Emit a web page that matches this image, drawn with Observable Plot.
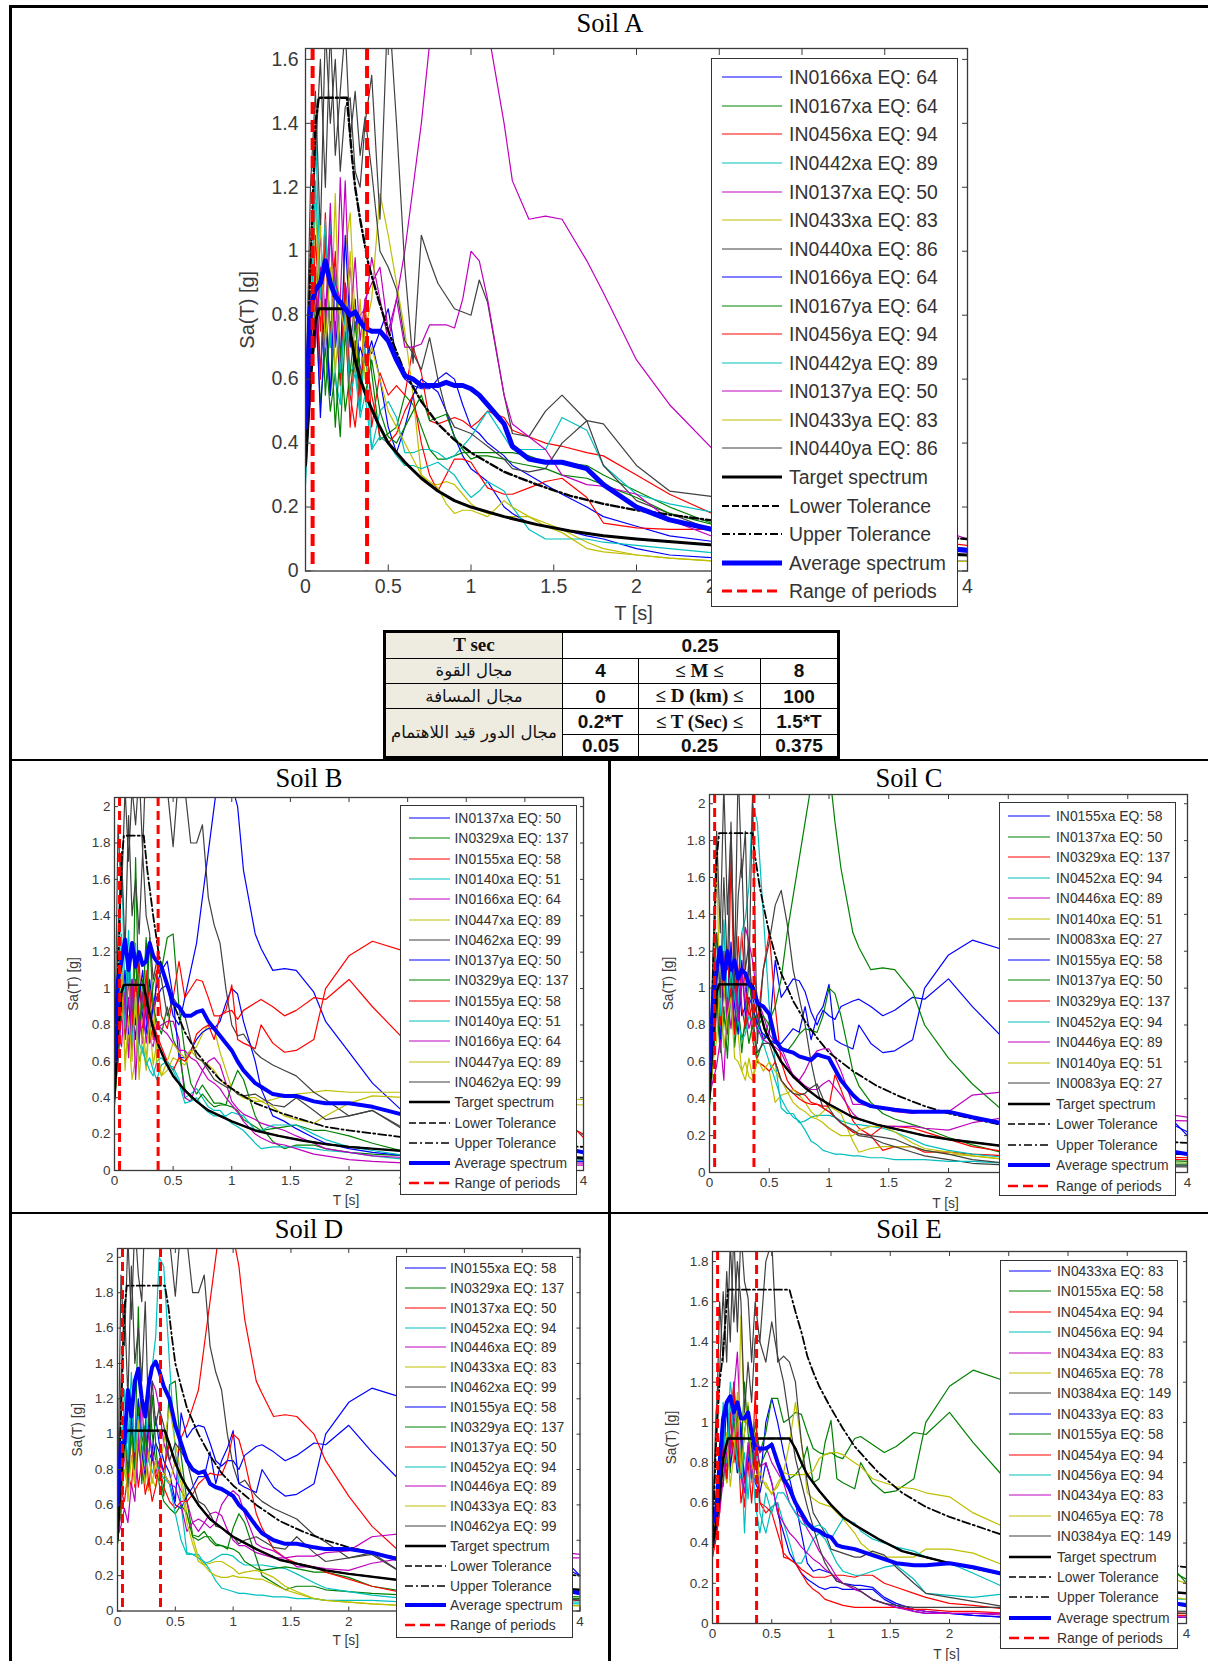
<!DOCTYPE html>
<html><head><meta charset="utf-8">
<script src="https://cdn.jsdelivr.net/npm/d3@7"></script>
<script src="https://cdn.jsdelivr.net/npm/@observablehq/plot@0.6"></script>
<style>
html,body{margin:0;padding:0;background:#fff}
#page{position:relative;width:1208px;height:1661px;overflow:hidden;background:#fff;font-family:"Liberation Sans",Arial,sans-serif}
.rule{position:absolute;background:#000}
.title{position:absolute;font-family:"Liberation Serif",serif;font-size:26.5px;color:#000;transform:translate(-50%,-50%);white-space:nowrap}
.legend{position:absolute;background:#fff;border:1.5px solid #333;box-sizing:border-box;color:#333}
.legend .row{position:absolute;left:0;right:0;white-space:pre}
.legend svg{position:absolute;left:0;top:0}
.legend span{position:absolute;transform:translateY(-50%);top:0}
.chart{position:absolute}
.chart svg{overflow:visible;background:transparent}
table{position:absolute;left:383px;top:630px;width:454px;height:129px;border-collapse:collapse;table-layout:fixed;border:3px solid #000;background:#fff}
td{border:1px solid #000;text-align:center;padding:0;font:bold 19px "Liberation Sans",Arial,sans-serif;color:#111;line-height:1}
td.h{background:#eeece1;font:16.5px "DejaVu Sans",sans-serif}
td.s{font:bold 19px "Liberation Serif",serif}
</style></head><body><div id="page"></div>
<script>
// Period grid shared by the records (s)
const T=[0,.03,.06,.09,.12,.15,.18,.21,.24,.27, .3,.33,.36,.4,.45,.5,.55,.6,.65,.7, .75,.8,.85,.9,.95,1,1.05,1.1,1.2,1.25, 1.35,1.45,1.55,1.7,1.8,2,2.2,2.5,4];
const xTicks=[0,.5,1,1.5,2,2.5,3,3.5,4];
const xLabelled=[0,.5,1,1.5,2,2.5,4];
const rangeT=[.043,.372];
const recordColors=["#0000ff","#008000","#ff0000","#00bfbf","#bf00bf","#bfbf00","#404040"];
const extraLabels=["Target spectrum","Lower Tolerance","Upper Tolerance","Average spectrum","Range of periods"];

// Soil A
const soilA_labels=["IN0166xa EQ: 64","IN0167xa EQ: 64","IN0456xa EQ: 94","IN0442xa EQ: 89","IN0137xa EQ: 50","IN0433xa EQ: 83","IN0440xa EQ: 86","IN0166ya EQ: 64","IN0167ya EQ: 64","IN0456ya EQ: 94","IN0442ya EQ: 89","IN0137ya EQ: 50","IN0433ya EQ: 83","IN0440ya EQ: 86"];
const soilA_records=[
[.45,.7,.95,.62,.85,.55,.78,.6,.9,.7, .85,.62,.72,.68,.75,.82,.66,.6,.58,.57, .57,.6,.62,.6,.52,.45,.43,.4,.36,.33, .3,.27,.24,.2,.17,.14,.11,.09,.05],
[.38,.62,.85,.52,.7,.5,.62,.42,.75,.55, .72,.5,.8,.62,.41,.43,.45,.55,.52,.45, .38,.35,.35,.36,.37,.37,.37,.37,.37,.37, .36,.34,.34,.33,.3,.25,.2,.14,.06],
[.32,.55,1.05,.75,1.12,.7,1.0,.58,.82,.45, .72,.55,.85,.45,.62,.55,.58,.55,.7,.62, .47,.46,.47,.48,.47,.45,.47,.5,.48,.44, .42,.4,.39,.37,.36,.3,.24,.17,.08],
[.27,.6,1.38,.9,.75,1.1,.6,.52,.88,.62, .65,.5,.7,.38,.5,.53,.48,.37,.37,.38, .38,.37,.35,.36,.39,.42,.46,.5,.42,.38, .38,.38,.48,.44,.33,.24,.21,.18,.07],
[.5,.72,.85,1.05,.78,1.15,.7,1.23,.85,.95, .75,.8,.82,.98,.85,.72,.85,1.0,1.2,1.4, 1.65,1.9,2.1,2.2,2.1,2,1.85,1.7,1.4,1.22, 1.1,1.11,1.1,.97,.87,.66,.52,.36,.1],
[.42,.68,1.15,.8,1.02,.7,1.18,.65,1.0,1.12, .78,.6,.75,.85,1.18,1.05,.9,.75,.55,.3, .27,.27,.28,.27,.24,.21,.19,.18,.17,.17, .17,.15,.13,.09,.07,.05,.04,.03,.03],
[.5,1.2,1.5,1.05,1.7,1.4,1.6,1.25,1.45,1.48, 1.25,1.2,1.4,1.55,1.1,1.8,1.4,.95,.65,1.05, .97,.9,.86,.82,.81,.8,.91,.84,.55,.43, .42,.5,.55,.47,.33,.22,.18,.12,.05],
[.42,.62,.9,.48,.78,.55,.95,.65,1.05,.75, .62,.7,.65,.72,.6,.45,.37,.45,.55,.6, .58,.56,.5,.42,.36,.32,.3,.28,.2,.18, .15,.14,.13,.11,.1,.07,.05,.04,.03],
[.35,.58,.75,.92,.55,.78,.45,.7,.5,.62, .78,.6,.55,.66,.5,.42,.4,.45,.5,.55, .47,.48,.49,.42,.38,.35,.36,.36,.35,.34, .33,.32,.3,.29,.27,.23,.18,.14,.06],
[.33,.65,.95,.6,1.05,.72,.98,.6,.9,.55, .45,.6,.68,.55,.42,.4,.43,.5,.55,.4, .3,.25,.3,.35,.35,.34,.3,.26,.24,.24, .26,.28,.29,.23,.15,.135,.13,.13,.07],
[.3,.7,1.22,.85,1.1,.7,.95,.62,.8,.55, .62,.48,.55,.38,.42,.4,.36,.33,.33,.32, .33,.34,.32,.3,.26,.23,.25,.28,.25,.2, .13,.1,.1,.1,.09,.08,.07,.055,.05],
[.45,.8,.7,.95,.75,1.05,.9,.85,1.22,.78, .98,.72,.85,.9,.95,.75,.85,.7,.7,.71, .77,.77,.77,.76,.85,1.0,.97,.85,.55,.46, .42,.38,.3,.27,.265,.24,.16,.1,.06],
[.38,.7,.85,1.08,.7,.95,.62,.82,.75,1.0, .62,.85,.6,.7,.6,.5,.45,.4,.35,.3, .28,.26,.21,.18,.19,.19,.18,.17,.22,.2, .17,.14,.12,.07,.06,.05,.04,.03,.03],
[.5,1.0,1.3,1.6,1.2,1.7,1.3,1.5,1.7,1.35, 1.5,1.3,1.42,1.25,1.0,.95,.88,.72,.68,.63, .73,.6,.5,.45,.44,.43,.41,.39,.35,.32, .31,.32,.4,.47,.46,.33,.25,.23,.06]];
const soilA_average=[.45,.82,.88,.9,.97,.9,.86,.84,.82,.8, .81,.78,.76,.75,.75,.72,.66,.61,.6,.58, .58,.58,.59,.58,.58,.57,.55,.52,.46,.39, .35,.34,.34,.32,.27,.2,.16,.125,.065];
const soilA_targetT=[0,.03,.06,.08,.25,.28,.3,.33,.38,.44,.5,.6,.7,.8,.9,1,1.2,1.4,1.6,1.8,2,2.5,3,4];
const soilA_target=[.33,.6,.78,.82,.82,.72,.66,.6,.53,.46,.4,.34,.29,.25,.22,.2,.17,.145,.125,.11,.1,.08,.07,.05];
const soilA_upper=[.45,.95,1.4,1.48,1.48,1.3,1.2,1.1,.96,.85,.75,.62,.53,.46,.41,.37,.31,.27,.235,.21,.19,.155,.13,.1];
const soilA_yTicks=[0,.2,.4,.6,.8,1,1.2,1.4,1.6];

// Soil B
const soilB_labels=["IN0137xa EQ: 50","IN0329xa EQ: 137","IN0155xa EQ: 58","IN0140xa EQ: 51","IN0166xa EQ: 64","IN0447xa EQ: 89","IN0462xa EQ: 99","IN0137ya EQ: 50","IN0329ya EQ: 137","IN0155ya EQ: 58","IN0140ya EQ: 51","IN0166ya EQ: 64","IN0447ya EQ: 89","IN0462ya EQ: 99"];
const soilB_records=[
[.45,.7,1.0,.82,1.1,.9,.72,1.02,.85,.75, 1.05,.88,.95,1.0,1.02,.85,.8,.95,1.1,1.25, 1.5,1.75,2.0,2.25,2.2,2.12,2.0,1.65,1.3,1.22, 1.1,1.11,1.1,.98,.82,.65,.48,.3,.1],
[.38,.65,1.05,.72,.95,.65,1.72,.82,.9,1.28, .85,1.02,1.1,1.1,1.28,1.3,.9,.65,.48,.42, .47,.42,.37,.37,.36,.47,.55,.5,.3,.24, .16,.12,.14,.14,.12,.1,.09,.08,.06],
[.4,.75,1.1,.85,1.05,.7,.95,1.15,.75,.9, 1.0,.72,1.1,.85,.78,.95,1.15,.95,1.0,1.05, 1.04,.95,.85,.85,.87,.88,.83,.88,.92,.94, .9,.85,.88,.95,.94,1.05,.9,.7,.2],
[.37,.8,1.75,.9,1.32,.85,1.25,.7,.65,.6, .55,.52,.6,.62,.58,.57,.5,.4,.42,.45, .4,.35,.33,.33,.29,.26,.24,.22,.15,.12, .13,.13,.13,.12,.11,.1,.08,.06,.05],
[.45,.6,.85,.72,.95,.65,1.05,.78,.98,.7, .85,.9,.78,.8,.82,.82,.72,.4,.38,.48, .55,.6,.62,.58,.48,.38,.34,.31,.28,.26, .24,.22,.19,.15,.12,.1,.08,.07,.04],
[.42,.7,1.1,.62,.75,.5,.62,.9,.72,.55, .85,.95,.6,.52,.55,.62,.6,.58,.65,.68, .75,.8,.78,.65,.55,.45,.42,.4,.38,.38, .39,.41,.42,.43,.44,.43,.43,.43,.39],
[.55,1.9,1.5,2.1,1.7,2.1,1.9,2.2,1.75,2.3, 2.4,2.3,2.1,2.4,2.1,1.78,2.2,2.1,1.8,1.8, 1.9,1.5,1.35,1.25,1.0,.8,.74,.75,.65,.62, .58,.55,.52,.43,.39,.3,.33,.22,.06],
[.42,.7,.9,1.1,.75,1.05,.8,.95,1.1,.85, .75,.9,1.02,1.1,1.15,.95,.62,.62,.66,.72, .76,.78,.78,.82,.92,1.0,.97,.82,.6,.45, .3,.27,.23,.18,.15,.12,.1,.08,.05],
[.36,.62,.95,.75,1.1,.82,1.2,.7,1.05,.85, 1.28,.9,.82,.75,.9,.72,.65,.45,.4,.38, .42,.38,.35,.36,.36,.35,.33,.28,.24,.22, .23,.24,.25,.22,.22,.19,.15,.1,.07],
[.4,.68,1.0,.75,1.15,.8,1.05,.85,.72,1.1, .7,.8,.75,.68,.6,.55,.62,.6,.65,.75, .78,.8,.72,.85,.88,1.02,.72,.7,.67,.8, .7,.65,.66,.72,1.0,1.18,1.26,1.2,.18],
[.38,.72,1.3,.78,1.1,.7,.95,.6,.68,.58, .62,.55,.5,.58,.6,.55,.48,.37,.38,.4, .35,.32,.3,.3,.3,.32,.31,.3,.22,.22, .25,.25,.25,.2,.17,.13,.11,.08,.06],
[.42,.75,.68,.98,.62,1.05,.5,.85,.7,.9, .72,.68,.8,.78,.75,.7,.66,.66,.62,.6, .55,.5,.48,.45,.4,.36,.32,.27,.2,.18, .15,.14,.12,.09,.08,.06,.05,.04,.03],
[.4,.65,1.12,.55,.85,.6,.98,.5,.78,.62, .82,.58,.7,.52,.6,.7,.65,.62,.66,.62, .6,.58,.55,.5,.47,.45,.43,.4,.4,.38, .35,.3,.28,.26,.3,.37,.41,.4,.36],
[.5,1.3,1.75,1.2,1.95,1.4,1.6,1.3,1.75,1.4, 1.3,1.05,1.15,1.05,.85,.95,.9,.85,.72,.62, .6,.55,.5,.48,.46,.45,.42,.41,.42,.4, .36,.35,.4,.33,.28,.3,.33,.21,.06]];
const soilB_average=[.6,1.05,1.15,1.27,1.1,1.25,1.12,1.2,1.13,1.15, 1.25,1.18,1.15,1.12,1.02,.92,.9,.85,.85,.87, .88,.82,.78,.74,.7,.66,.6,.55,.48,.46, .42,.41,.41,.38,.37,.37,.35,.3,.1];
const soilB_targetT=[0,.03,.06,.08,.25,.28,.3,.33,.38,.44,.5,.6,.7,.8,.9,1,1.2,1.4,1.6,1.8,2,2.5,3,4];
const soilB_target=[.4,.75,.98,1.02,1.02,.92,.86,.78,.68,.59,.52,.44,.38,.33,.3,.27,.22,.19,.165,.145,.13,.105,.09,.07];
const soilB_upper=[.45,1.1,1.7,1.84,1.84,1.65,1.55,1.4,1.18,1.03,.92,.76,.65,.57,.5,.45,.37,.32,.28,.24,.22,.18,.15,.13];
const wideTicks=[0,.2,.4,.6,.8,1,1.2,1.4,1.6,1.8,2];

// Soil C
const soilC_labels=["IN0155xa EQ: 58","IN0137xa EQ: 50","IN0329xa EQ: 137","IN0452xa EQ: 94","IN0446xa EQ: 89","IN0140xa EQ: 51","IN0083xa EQ: 27","IN0155ya EQ: 58","IN0137ya EQ: 50","IN0329ya EQ: 137","IN0452ya EQ: 94","IN0446ya EQ: 89","IN0140ya EQ: 51","IN0083ya EQ: 27"];
const soilC_records=[
[.42,.7,1.05,.8,1.2,.9,1.1,.78,1.05,.85, .9,1.15,.95,.85,.72,.75,1.15,.95,1.0,1.05, 1.04,.98,.87,.8,.88,.85,.83,.9,.93,.94, .9,.85,.88,.95,.94,1.05,.9,.7,.22],
[.38,.62,.95,.72,.9,.62,1.0,.75,.92,.65, .85,.7,.8,.62,.72,.82,.9,1.05,1.3,1.5, 1.7,1.9,2.1,2.25,2.3,2.2,1.9,1.65,1.3,1.22, 1.1,1.11,1.1,.98,.8,.62,.48,.31,.1],
[.4,.65,.95,.85,1.1,.78,1.7,.9,1.05,1.3, 1.0,.85,.9,.8,1.1,1.3,.9,.6,.5,.45, .43,.42,.38,.37,.36,.36,.53,.45,.28,.24, .2,.12,.14,.14,.11,.11,.1,.09,.07],
[.37,.8,1.3,.95,1.35,.85,1.2,1.05,.9,1.3, 1.38,1.55,2.0,1.9,1.4,.9,.6,.35,.32,.32, .27,.28,.3,.31,.31,.31,.3,.28,.26,.26, .25,.24,.22,.18,.15,.12,.1,.08,.05],
[.42,.6,.9,.7,1.0,.85,.95,1.2,.85,1.0, 1.33,1.25,1.15,.95,.85,.75,.7,.68,.6,.52, .5,.55,.62,.66,.67,.67,.62,.55,.37,.37, .36,.35,.33,.32,.33,.33,.42,.44,.3],
[.38,.7,1.75,.8,1.05,.72,1.2,.95,.75,.55, .6,.52,.5,.6,.58,.55,.38,.42,.43,.45, .42,.38,.33,.3,.33,.36,.34,.32,.17,.11, .13,.14,.14,.14,.12,.1,.09,.07,.04],
[.5,1.2,1.85,1.3,2.1,1.4,1.85,1.1,2.2,1.6, 1.85,1.05,2.05,.7,1.1,1.25,1.45,1.53,1.35,1.1, .95,.8,.6,.45,.35,.33,.3,.27,.22,.2, .19,.16,.14,.11,.09,.07,.05,.04,.03],
[.4,.62,.95,.7,1.15,.85,1.25,.9,.75,1.15, .85,.95,.9,.8,.75,.72,.7,.7,.74,.78, .76,.9,.72,.85,.9,1.02,.72,.7,.67,.8, .7,.65,.66,.72,1.0,1.18,1.26,1.2,.2],
[.36,.6,.92,.65,.85,.75,1.1,.68,.88,.72, .8,1.05,.88,.78,.85,.8,.72,.68,.66,.7, .75,.78,.77,.76,.85,1.0,.97,.85,.55,.47, .38,.32,.29,.26,.24,.19,.15,.1,.06],
[.42,.72,1.1,.8,1.2,.85,1.0,.75,1.28,.9, .78,.95,.72,.6,.58,.55,.6,.5,.46,.43, .4,.38,.37,.37,.35,.33,.3,.27,.22,.21, .2,.25,.25,.24,.22,.18,.14,.11,.08],
[.38,.75,1.1,.85,1.37,.9,1.1,.95,.82,.72, .75,.85,.8,.8,.7,.6,.5,.4,.34,.3, .28,.23,.17,.15,.12,.11,.1,.1,.09,.09, .08,.08,.07,.07,.07,.06,.06,.05,.04],
[.42,.5,.58,.72,.5,.95,.78,1.05,.82,1.1, .9,.78,.85,.78,.72,.7,.68,.65,.58,.53, .5,.47,.45,.45,.48,.5,.46,.42,.32,.29, .27,.25,.25,.25,.24,.23,.27,.3,.28],
[.38,.6,.72,1.05,.68,.85,.95,.62,.6,.55, .5,.62,.52,.62,.55,.6,.55,.5,.44,.38, .35,.33,.3,.29,.27,.24,.22,.2,.2,.23, .25,.25,.22,.16,.13,.11,.09,.07,.05],
[.5,1.0,1.3,.95,1.6,1.1,1.9,1.0,1.5,1.7, 1.1,1.25,.85,.65,.7,.7,.6,.5,.46,.43, .42,.43,.46,.48,.4,.35,.3,.27,.23,.21, .2,.19,.18,.14,.12,.1,.07,.05,.04]];
const soilC_average=[.55,.95,1.1,1.22,1.05,1.2,1.1,1.15,1.05,1.1, 1.08,1.02,1.0,.92,.9,.86,.72,.67,.66,.65, .63,.62,.61,.64,.63,.62,.56,.5,.42,.39, .36,.35,.34,.33,.33,.33,.3,.26,.1];
const soilC_targetT=[0,.03,.06,.08,.36,.38,.42,.46,.5,.55,.6,.7,.8,.9,1,1.2,1.4,1.6,1.8,2,2.5,3,4];
const soilC_target=[.4,.75,.98,1.02,1.02,.98,.88,.78,.72,.66,.6,.52,.46,.41,.37,.3,.26,.23,.2,.18,.14,.12,.1];
const soilC_upper=[.45,1.1,1.7,1.84,1.84,1.72,1.55,1.42,1.3,1.18,1.08,.93,.82,.73,.65,.55,.47,.41,.36,.32,.25,.2,.16];

// Soil D
const soilD_labels=["IN0155xa EQ: 58","IN0329xa EQ: 137","IN0137xa EQ: 50","IN0452xa EQ: 94","IN0446xa EQ: 89","IN0433xa EQ: 83","IN0462xa EQ: 99","IN0155ya EQ: 58","IN0329ya EQ: 137","IN0137ya EQ: 50","IN0452ya EQ: 94","IN0446ya EQ: 89","IN0433ya EQ: 83","IN0462ya EQ: 99"];
const soilD_records=[
[.42,.72,1.08,.8,1.2,.9,1.1,.8,1.05,.85, .9,1.1,.95,.85,.78,.62,1.12,.98,1.03,1.05, 1.04,.95,.85,.82,.85,.85,.8,.88,.93,.94, .9,.85,.88,.95,.94,1.05,.9,.7,.2],
[.4,.65,1.0,.8,1.1,.85,1.72,.95,1.05,1.28, 1.0,.85,.8,.65,1.28,1.3,.88,.62,.43,.42, .45,.4,.37,.37,.35,.47,.55,.5,.3,.2, .16,.12,.14,.14,.12,.11,.1,.09,.07],
[.42,.62,.95,.75,1.0,.7,1.05,.85,1.02,.7, .88,.75,.82,.8,.95,.82,.98,1.05,1.15,1.25, 1.5,1.75,2.0,2.25,2.2,2.12,1.95,1.65,1.3,1.23, 1.1,1.11,1.1,1.0,.85,.65,.48,.3,.1],
[.38,.8,1.25,.95,1.35,.9,1.2,1.05,.9,1.3, 1.38,1.55,2.0,1.95,1.4,.9,.6,.33,.32,.32, .27,.28,.3,.32,.32,.31,.28,.26,.26,.26, .25,.24,.21,.16,.13,.11,.09,.07,.05],
[.42,.55,.9,.7,1.0,.9,.95,1.2,.85,1.02, 1.3,1.25,1.15,.95,.85,.75,.68,.62,.5,.45, .5,.55,.56,.54,.46,.4,.37,.37,.33,.32, .3,.3,.31,.31,.33,.34,.42,.44,.32],
[.38,.62,.8,.68,1.05,.72,.95,.82,.72,.68, .75,.7,.8,.95,1.15,.95,.78,.55,.42,.3, .26,.27,.28,.28,.26,.24,.21,.22,.23,.22, .19,.14,.11,.07,.06,.05,.04,.03,.03],
[.55,1.9,1.5,2.1,1.65,2.2,1.9,1.75,2.3,2.4, 2.4,2.4,2.3,2.3,2.1,1.78,2.2,2.1,1.8,1.8, 1.9,1.5,1.35,1.25,1.0,.82,.72,.74,.65,.62, .58,.55,.52,.43,.39,.3,.32,.2,.06],
[.4,.65,.95,.7,1.1,.85,1.2,.9,.75,1.1, .85,.95,.9,.78,.72,.6,.58,.65,.7,.76, .76,.9,.72,.85,.92,1.02,.72,.7,.67,.8, .7,.65,.66,.72,1.0,1.18,1.26,1.2,.2],
[.38,.6,.95,.72,1.05,.8,1.15,.72,1.0,.85, 1.22,.95,.72,.62,.58,.55,.6,.55,.42,.4, .42,.42,.38,.37,.36,.35,.33,.28,.24,.23, .24,.25,.24,.22,.22,.19,.14,.11,.08],
[.42,.68,.62,.78,.7,.95,.7,.85,.66,.75, .62,.7,.82,.7,.62,.58,.62,.62,.66,.72, .75,.78,.77,.77,.85,1.0,.97,.85,.55,.47, .35,.3,.27,.25,.22,.18,.14,.1,.06],
[.38,.75,1.1,.85,1.2,.9,1.1,.95,.82,.85, .78,.85,.8,.75,.72,.55,.4,.32,.32,.3, .28,.23,.17,.13,.12,.11,.1,.1,.09,.09, .08,.08,.07,.07,.06,.06,.06,.05,.04],
[.42,.48,.58,.5,.72,.62,.95,.78,.82,1.0, .9,.78,.85,.78,.72,.7,.6,.45,.5,.52, .5,.47,.5,.6,.65,.68,.65,.55,.38,.36, .34,.3,.25,.25,.24,.23,.27,.3,.3],
[.38,.65,.95,.62,.88,.72,1.08,.85,.72,.9, .72,.85,.75,.78,.72,.85,.72,.5,.38,.28, .26,.22,.2,.19,.19,.2,.19,.19,.18,.18, .15,.12,.1,.07,.06,.05,.04,.03,.03],
[.5,1.3,1.75,1.2,1.95,1.4,1.6,1.3,1.75,1.05, 1.3,1.05,1.15,1.05,.85,.95,.9,.85,.72,.62, .6,.55,.48,.47,.44,.42,.38,.4,.42,.4, .36,.35,.42,.33,.28,.3,.33,.2,.06]];
const soilD_average=[.6,.95,.95,1.25,1.1,1.3,1.37,1.2,1.1,1.28, 1.38,1.41,1.36,1.27,1.2,1.05,.95,.85,.8,.78, .79,.72,.7,.69,.67,.65,.6,.57,.48,.44, .4,.38,.38,.36,.35,.35,.33,.28,.1];
const soilD_targetT=[0,.03,.06,.08,.41,.44,.47,.5,.55,.6,.7,.8,.9,1,1.2,1.4,1.6,1.8,2,2.5,3,4];
const soilD_target=[.4,.75,.98,1.02,1.02,.96,.9,.84,.76,.7,.6,.52,.47,.42,.35,.29,.26,.23,.21,.17,.15,.12];
const soilD_upper=[.45,1.1,1.7,1.84,1.84,1.72,1.55,1.4,1.27,1.15,1.0,.88,.78,.71,.6,.51,.45,.4,.36,.29,.25,.2];

// Soil E
const soilE_labels=["IN0433xa EQ: 83","IN0155xa EQ: 58","IN0454xa EQ: 94","IN0456xa EQ: 94","IN0434xa EQ: 83","IN0465xa EQ: 78","IN0384xa EQ: 149","IN0433ya EQ: 83","IN0155ya EQ: 58","IN0454ya EQ: 94","IN0456ya EQ: 94","IN0434ya EQ: 83","IN0465ya EQ: 78","IN0384ya EQ: 149"];
const soilE_records=[
[.38,.5,.62,.95,1.1,.85,1.05,.8,.95,.72, .85,.95,.78,.7,1.0,1.12,1.0,.85,.72,.6, .45,.3,.26,.27,.26,.25,.21,.2,.19,.19, .18,.13,.1,.07,.06,.05,.04,.03,.03],
[.42,.55,.72,.68,.92,.75,1.2,.95,.82,1.2, .95,.78,1.0,.85,.95,1.12,1.12,1.0,1.02,1.05, 1.04,.95,.87,.85,.84,.85,.83,.82,.92,.93, .89,.85,.88,.95,.94,1.05,.9,.7,.22],
[.33,.45,.62,.85,.7,1.0,1.2,.8,.75,.58, .85,.72,1.15,.6,.55,.58,.6,.33,.32,.3, .27,.25,.23,.23,.23,.24,.24,.24,.23,.24, .24,.2,.18,.15,.13,.1,.09,.07,.05],
[.35,.5,.78,1.1,.85,1.2,1.05,.75,.9,.45, .85,.7,.95,.55,.45,.58,.6,.5,.4,.3, .3,.36,.42,.45,.42,.36,.3,.26,.24,.24, .26,.28,.29,.22,.15,.14,.13,.15,.12],
[.38,.5,.68,.95,.78,.85,1.15,1.35,.9,.7, .88,.78,.95,.85,.88,.8,.75,.7,.6,.55, .53,.47,.42,.36,.32,.28,.23,.2,.17,.16, .12,.1,.08,.07,.06,.05,.05,.04,.03],
[.45,.55,.62,.85,.7,1.05,.9,.75,1.53,1.0, 1.1,.85,.95,.7,.7,.64,.7,.75,.9,1.1, .9,.65,.62,.6,.59,.58,.55,.52,.45,.4, .35,.33,.33,.33,.37,.37,.35,.28,.12],
[.5,.9,1.6,1.3,1.75,1.4,1.95,1.45,1.95,1.7, 1.62,1.3,1.6,1.4,1.8,1.9,1.3,1.33,1.3,1.2, .9,.7,.55,.5,.45,.37,.36,.35,.33,.33, .36,.34,.28,.2,.15,.13,.11,.08,.06],
[.36,.48,.7,.82,1.08,.78,.9,.75,1.0,.7, .8,.9,.7,.65,.8,.7,.55,.45,.35,.3, .25,.22,.2,.18,.17,.18,.18,.17,.17,.17, .17,.12,.09,.06,.05,.05,.04,.03,.03],
[.4,.5,.68,.85,.72,.92,1.0,.85,.75,.95, 1.08,.8,.92,.78,.85,.9,.8,.7,.72,.74, .78,.88,.7,.72,.9,1.01,.72,.7,.67,.8, .7,.65,.66,.72,1.0,1.18,1.26,1.2,.2],
[.33,.42,.55,.92,.72,1.05,.8,.95,.6,.72, .8,.6,.85,.6,.58,.55,.45,.35,.32,.3, .25,.2,.17,.15,.12,.11,.1,.09,.08,.08, .08,.08,.08,.07,.07,.06,.06,.05,.04],
[.36,.5,.72,.98,.8,1.1,.95,.78,.72,.85, .62,.85,.6,.45,.65,.55,.65,.65,.6,.55, .5,.48,.48,.49,.47,.42,.47,.52,.5,.46, .42,.4,.38,.36,.33,.3,.25,.17,.1],
[.38,.48,.55,.72,.85,.9,1.0,1.05,.75,.65, .9,.72,.92,.78,.8,.7,.55,.5,.45,.42, .38,.35,.32,.3,.27,.25,.22,.2,.17,.16, .12,.1,.08,.06,.05,.05,.05,.05,.03],
[.45,.52,.62,.78,.95,.68,.85,1.15,.75,.95, 1.05,.8,.72,.75,.68,.65,.68,.75,.74,.74, .74,.74,.76,.82,.84,.85,.85,.84,.8,.78, .72,.7,.68,.67,.65,.63,.55,.47,.2],
[.5,1.05,1.25,1.65,1.3,1.9,1.5,1.8,1.6,1.05, 1.3,1.1,1.42,1.4,1.3,1.5,1.33,1.2,1.0,.82, .7,.58,.48,.38,.3,.25,.21,.2,.18,.16, .12,.1,.09,.08,.08,.08,.08,.08,.05]];
const soilE_average=[.5,.55,.8,1.02,1.1,1.13,1.05,1.1,1.02,1.02, 1.05,.95,.87,.87,.87,.89,.8,.72,.67,.6, .55,.5,.47,.46,.44,.43,.39,.38,.37,.36, .34,.32,.3,.29,.29,.3,.28,.24,.09];
const soilE_targetT=[0,.03,.06,.09,.13,.65,.7,.75,.8,.85,.9,1,1.1,1.2,1.4,1.6,1.8,2,2.5,3,4];
const soilE_target=[.38,.5,.62,.82,.92,.92,.87,.8,.74,.7,.66,.59,.53,.49,.42,.36,.33,.3,.24,.2,.15];
const soilE_upper=[.38,.9,1.2,1.35,1.66,1.66,1.55,1.45,1.33,1.25,1.18,1.07,.97,.88,.75,.65,.58,.53,.43,.35,.28];
const soilE_yTicks=[0,.2,.4,.6,.8,1,1.2,1.4,1.6,1.8];

const tableRows=[
 ["T sec","0.25"],["مجال القوة","4","≤ M ≤","8"],["مجال المسافة","0","≤ D (km) ≤","100"],
 ["مجال الدور قيد اللاهتمام","0.2*T","≤ T (Sec) ≤","1.5*T"],["0.05","0.25","0.375"]];

// Layout (page pixels)
const panels=[
 {title:"Soil A",tx:610,ty:23,labels:soilA_labels,records:soilA_records,average:soilA_average,targetT:soilA_targetT,target:soilA_target,upper:soilA_upper,ymax:1.634,yTicks:soilA_yTicks,
  fr:[305,47.5,967,570],font:19.5,lab:20,pad:8,tick:6,xdy:43,ydx:-58,
  leg:{x:711,y:58,w:247,h:549,first:18.3,row:28.55,lx:10,lw:60,tx:77,fs:19.4,lwScale:1}},
 {title:"Soil B",tx:309,ty:778,labels:soilB_labels,records:soilB_records,average:soilB_average,targetT:soilB_targetT,target:soilB_target,upper:soilB_upper,ymax:2.05,yTicks:wideTicks,
  fr:[114,797,583,1170],font:13.5,lab:13.8,pad:5,tick:4,xdy:30,ydx:-41,
  leg:{x:399.5,y:805,w:177,h:390,first:12,row:20.3,lx:8,lw:41,tx:54,fs:13.9,lwScale:.8}},
 {title:"Soil C",tx:909,ty:778,labels:soilC_labels,records:soilC_records,average:soilC_average,targetT:soilC_targetT,target:soilC_target,upper:soilC_upper,ymax:2.05,yTicks:wideTicks,
  fr:[709,794,1187,1172],font:13.5,lab:13.8,pad:5,tick:4,xdy:31,ydx:-41,
  leg:{x:999,y:802,w:177,h:394,first:13,row:20.55,lx:8,lw:42,tx:56,fs:13.9,lwScale:.8}},
 {title:"Soil D",tx:309,ty:1229,labels:soilD_labels,records:soilD_records,average:soilD_average,targetT:soilD_targetT,target:soilD_target,upper:soilD_upper,ymax:2.05,yTicks:wideTicks,
  fr:[116.5,1248,579,1610.5],font:13.5,lab:13.8,pad:5,tick:4,xdy:30,ydx:-40,
  leg:{x:396,y:1255.5,w:177,h:382.5,first:11.5,row:19.85,lx:8,lw:41,tx:53,fs:13.9,lwScale:.8}},
 {title:"Soil E",tx:909,ty:1229,labels:soilE_labels,records:soilE_records,average:soilE_average,targetT:soilE_targetT,target:soilE_target,upper:soilE_upper,ymax:1.85,yTicks:soilE_yTicks,
  fr:[712,1251,1186,1623],font:13.5,lab:13.8,pad:5,tick:4,xdy:31,ydx:-41,
  leg:{x:1000,y:1260,w:178,h:389,first:10,row:20.4,lx:8,lw:42,tx:56,fs:13.9,lwScale:.8}}
];
const page=document.getElementById("page");
const rules=[[9,5,1199,2.5],[9,5,2.5,1656],[9,758.5,1199,2.5],[608,760,2.5,901],[9,1211.5,1199,2.5]];
for(const [l,t,w,h] of rules){const d=document.createElement("div");d.className="rule";d.style.cssText=`left:${l}px;top:${t}px;width:${w}px;height:${h}px`;page.appendChild(d)}

function yFmt(d){return String(d)}
for(const p of panels){
  const [fl,ft,fr,fb]=p.fr;
  const mL=70,mR=16,mT=8,mB=56;
  const tgt=p.targetT.map((t,i)=>({t,v:p.target[i],u:p.upper[i]}));
  const clipLine=(data,x,y,o)=>Plot.line(data,{x,y,clip:true,strokeLinejoin:"round",...o});
  const axisC="#3a3a3a";
  const marks=[];
  p.records.forEach((vals,k)=>{
    marks.push(clipLine(T.map((t,i)=>({t,v:vals[i]})),"t","v",{stroke:recordColors[k%7],strokeWidth:1.2}));
  });
  marks.push(clipLine(tgt,"t","v",{stroke:"#000",strokeWidth:1.6,strokeDasharray:"6,4"}));
  marks.push(clipLine(tgt,"t","u",{stroke:"#000",strokeWidth:p.font>15?2.4:1.8,strokeDasharray:"8,3,2,3"}));
  marks.push(clipLine(tgt,"t","v",{stroke:"#000",strokeWidth:p.font>15?3:2.4}));
  marks.push(clipLine(T.map((t,i)=>({t,v:p.average[i]})),"t","v",{stroke:"#0000ff",strokeWidth:p.font>15?5:4}));
  marks.push(Plot.ruleX(rangeT,{stroke:"#ff0000",strokeWidth:p.font>15?4:3,strokeDasharray:p.font>15?"12,6":"9,5",clip:true}));
  marks.push(Plot.frame({stroke:axisC,strokeWidth:1.3}));
  const inward={tickSize:-p.tick,stroke:axisC,tickFormat:()=>"",label:null};
  marks.push(Plot.axisX(xTicks,{anchor:"bottom",...inward}));
  marks.push(Plot.axisX(xTicks,{anchor:"top",...inward}));
  marks.push(Plot.axisY(p.yTicks,{anchor:"left",...inward}));
  marks.push(Plot.axisY(p.yTicks,{anchor:"right",...inward}));
  marks.push(Plot.axisX(xLabelled,{anchor:"bottom",tickSize:0,tickPadding:p.pad,tickFormat:yFmt,label:null,fill:axisC}));
  marks.push(Plot.axisY(p.yTicks,{anchor:"left",tickSize:0,tickPadding:p.pad-1,tickFormat:yFmt,label:null,fill:axisC}));
  marks.push(Plot.text(["T [s]"],{frameAnchor:"bottom",lineAnchor:"middle",dx:-3,dy:p.xdy,fontSize:p.lab,fill:axisC}));
  marks.push(Plot.text(["Sa(T) [g]"],{frameAnchor:"left",textAnchor:"middle",rotate:-90,dx:p.ydx,fontSize:p.lab,fill:axisC}));
  const svg=Plot.plot({width:fr-fl+mL+mR,height:fb-ft+mT+mB,marginLeft:mL,marginRight:mR,marginTop:mT,marginBottom:mB,
    x:{domain:[0,4],label:null},y:{domain:[0,p.ymax],label:null},
    style:{fontFamily:'"Liberation Sans",Arial,sans-serif',fontSize:p.font+"px",background:"transparent",color:axisC},marks});
  const wrap=document.createElement("div");wrap.className="chart";wrap.style.left=(fl-mL)+"px";wrap.style.top=(ft-mT)+"px";wrap.appendChild(svg);page.appendChild(wrap);

  const ti=document.createElement("div");ti.className="title";ti.textContent=p.title;ti.style.left=p.tx+"px";ti.style.top=p.ty+"px";page.appendChild(ti);

  const L=p.leg,lg=document.createElement("div");lg.className="legend";
  lg.style.cssText=`left:${L.x}px;top:${L.y}px;width:${L.w}px;height:${L.h}px;font-size:${L.fs}px`;
  const styles=p.records.map((_,k)=>({c:recordColors[k%7],w:1.2}))
    .concat([{c:"#000",w:3*L.lwScale},{c:"#000",w:2*L.lwScale,d:"7,3"},{c:"#000",w:2*L.lwScale,d:"8,3,2,3"},{c:"#0000ff",w:5*L.lwScale},{c:"#ff0000",w:3.2*L.lwScale,d:"10,5"}]);
  p.labels.concat(extraLabels).forEach((txt,i)=>{
    const r=document.createElement("div");r.className="row";r.style.top=(L.first+i*L.row)+"px";
    const s=styles[i];
    r.innerHTML=`<svg width="${L.tx}" height="12" style="top:-6px;overflow:visible"><line x1="${L.lx}" x2="${L.lx+L.lw}" y1="6" y2="6" stroke="${s.c}" stroke-width="${s.w}" ${s.d?`stroke-dasharray="${s.d}"`:""}/></svg><span style="left:${L.tx}px">${txt}</span>`;
    lg.appendChild(r);
  });
  page.appendChild(lg);
}

// Parameter table
const table=document.createElement("table");
table.innerHTML=`<colgroup><col style="width:178px"><col style="width:76px"><col style="width:122px"><col style="width:78px"></colgroup>
<tr><td class="h s">${tableRows[0][0]}</td><td colspan="3">${tableRows[0][1]}</td></tr>
<tr><td class="h">${tableRows[1][0]}</td><td>${tableRows[1][1]}</td><td class="s">${tableRows[1][2]}</td><td>${tableRows[1][3]}</td></tr>
<tr><td class="h">${tableRows[2][0]}</td><td>${tableRows[2][1]}</td><td class="s">${tableRows[2][2]}</td><td>${tableRows[2][3]}</td></tr>
<tr><td class="h" rowspan="2">${tableRows[3][0]}</td><td>${tableRows[3][1]}</td><td class="s">${tableRows[3][2]}</td><td>${tableRows[3][3]}</td></tr>
<tr><td>${tableRows[4][0]}</td><td>${tableRows[4][1]}</td><td>${tableRows[4][2]}</td></tr>`;
page.appendChild(table);
</script></body></html>
